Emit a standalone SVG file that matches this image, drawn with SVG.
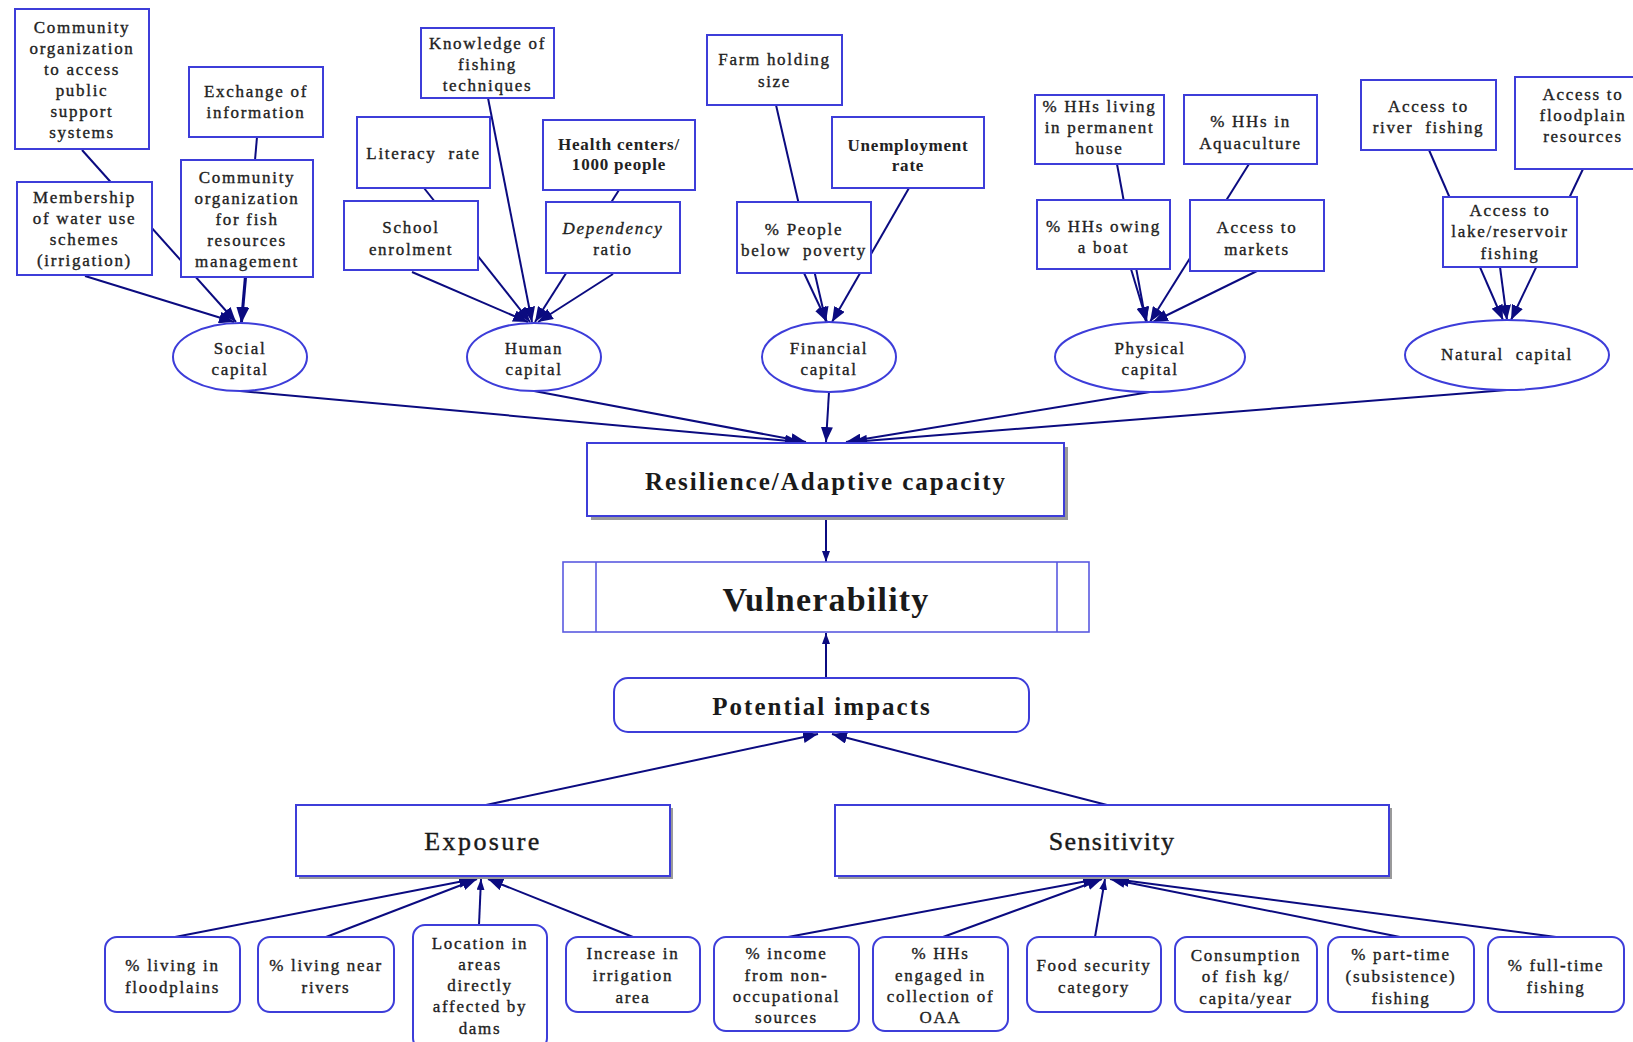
<svg xmlns="http://www.w3.org/2000/svg" width="1633" height="1042" viewBox="0 0 1633 1042">
<defs>
<marker id="ah" markerUnits="userSpaceOnUse" markerWidth="15" markerHeight="12" refX="15" refY="6" orient="auto">
<path d="M0,0 L15,6 L0,12 z" fill="#0b0b80"/>
</marker>
<marker id="as" markerUnits="userSpaceOnUse" markerWidth="11" markerHeight="8" refX="11" refY="4" orient="auto">
<path d="M0,0 L11,4 L0,8 z" fill="#0b0b80"/>
</marker>
</defs>
<style>
.b{fill:#fff;stroke:#3d3dd9;stroke-width:2}
.sh{fill:#9a9a9a}
.c line{stroke:#0b0b80;stroke-width:2;fill:none}
.t{font-family:"Liberation Serif","Times New Roman",serif;font-size:17px;letter-spacing:1.7px;fill:#222;stroke:#222;stroke-width:0.35;text-anchor:middle}
.bd{font-weight:bold;letter-spacing:0.8px;stroke-width:0}
.big{font-family:"Liberation Serif","Times New Roman",serif;fill:#1a1a1a;text-anchor:middle}
</style>
<rect width="1633" height="1042" fill="#fff"/>
<g id="connectors" class="c">
<line x1="82" y1="150" x2="236" y2="322" marker-end="url(#ah)"/>
<line x1="85" y1="276" x2="234" y2="322" marker-end="url(#ah)"/>
<line x1="257" y1="137" x2="241" y2="322" marker-end="url(#ah)"/>
<line x1="246" y1="278" x2="242" y2="322" marker-end="url(#ah)"/>
<line x1="488" y1="98" x2="532" y2="322" marker-end="url(#ah)"/>
<line x1="424" y1="188" x2="530" y2="322" marker-end="url(#ah)"/>
<line x1="412" y1="272" x2="528" y2="322" marker-end="url(#ah)"/>
<line x1="619" y1="190" x2="535" y2="322" marker-end="url(#ah)"/>
<line x1="613" y1="274" x2="538" y2="322" marker-end="url(#ah)"/>
<line x1="776" y1="105" x2="826" y2="322" marker-end="url(#ah)"/>
<line x1="804" y1="273" x2="827" y2="322" marker-end="url(#ah)"/>
<line x1="909" y1="188" x2="832" y2="322" marker-end="url(#ah)"/>
<line x1="1117" y1="164" x2="1146" y2="322" marker-end="url(#ah)"/>
<line x1="1131" y1="269" x2="1147" y2="322" marker-end="url(#ah)"/>
<line x1="1249" y1="164" x2="1150" y2="322" marker-end="url(#ah)"/>
<line x1="1257" y1="271" x2="1153" y2="322" marker-end="url(#ah)"/>
<line x1="1429" y1="150" x2="1503" y2="320" marker-end="url(#ah)"/>
<line x1="1583" y1="169" x2="1511" y2="320" marker-end="url(#ah)"/>
<line x1="1500" y1="267" x2="1507" y2="320" marker-end="url(#ah)"/>
<line x1="240" y1="391" x2="800" y2="442" marker-end="url(#ah)"/>
<line x1="534" y1="391" x2="806" y2="442" marker-end="url(#ah)"/>
<line x1="829" y1="392" x2="826" y2="442" marker-end="url(#ah)"/>
<line x1="1150" y1="392" x2="846" y2="442" marker-end="url(#ah)"/>
<line x1="1507" y1="390" x2="852" y2="442" marker-end="url(#ah)"/>
<line x1="826" y1="518" x2="826" y2="562" marker-end="url(#as)"/>
<line x1="826" y1="678" x2="826" y2="633" marker-end="url(#as)"/>
<line x1="486" y1="805" x2="818" y2="734" marker-end="url(#ah)"/>
<line x1="1107" y1="805" x2="832" y2="734" marker-end="url(#ah)"/>
<line x1="175" y1="937" x2="474" y2="879" marker-end="url(#ah)"/>
<line x1="326" y1="937" x2="477" y2="879" marker-end="url(#ah)"/>
<line x1="479" y1="925" x2="481" y2="879" marker-end="url(#as)"/>
<line x1="633" y1="937" x2="488" y2="879" marker-end="url(#ah)"/>
<line x1="788" y1="937" x2="1098" y2="879" marker-end="url(#ah)"/>
<line x1="943" y1="937" x2="1102" y2="879" marker-end="url(#ah)"/>
<line x1="1095" y1="937" x2="1105" y2="879" marker-end="url(#as)"/>
<line x1="1400" y1="937" x2="1110" y2="879" marker-end="url(#ah)"/>
<line x1="1556" y1="937" x2="1114" y2="879" marker-end="url(#ah)"/>
</g>
<g id="n-comm-access"><rect class="b" x="15" y="9" width="134" height="140"/>
<text class="t" x="82" y="33">Community</text><text class="t" x="82" y="54">organization</text><text class="t" x="82" y="75">to access</text><text class="t" x="82" y="96">public</text><text class="t" x="82" y="117">support</text><text class="t" x="82" y="138">systems</text></g>
<g id="n-exchange"><rect class="b" x="189" y="67" width="134" height="70"/>
<text class="t" x="256" y="97">Exchange of</text><text class="t" x="256" y="118">information</text></g>
<g id="n-membership"><rect class="b" x="17" y="182" width="135" height="93"/>
<text class="t" x="84.5" y="203">Membership</text><text class="t" x="84.5" y="224">of water use</text><text class="t" x="84.5" y="245">schemes</text><text class="t" x="84.5" y="266">(irrigation)</text></g>
<g id="n-comm-fish"><rect class="b" x="181" y="160" width="132" height="117"/>
<text class="t" x="247" y="183">Community</text><text class="t" x="247" y="204">organization</text><text class="t" x="247" y="225">for fish</text><text class="t" x="247" y="246">resources</text><text class="t" x="247" y="267">management</text></g>
<g id="n-social"><ellipse class="b" cx="240" cy="357" rx="67" ry="34"/>
<text class="t" x="240" y="354">Social</text><text class="t" x="240" y="375">capital</text></g>
<g id="n-knowledge"><rect class="b" x="421" y="28" width="133" height="70"/>
<text class="t" x="487.5" y="49">Knowledge of</text><text class="t" x="487.5" y="70">fishing</text><text class="t" x="487.5" y="91">techniques</text></g>
<g id="n-literacy"><rect class="b" x="357" y="117" width="133" height="71"/>
<text class="t" x="423.5" y="159" xml:space="preserve">Literacy  rate</text></g>
<g id="n-health"><rect class="b" x="543" y="120" width="152" height="70"/>
<text class="t bd" x="619" y="150">Health centers/</text><text class="t bd" x="619" y="170">1000 people</text></g>
<g id="n-school"><rect class="b" x="344" y="201" width="134" height="69"/>
<text class="t" x="411" y="233">School</text><text class="t" x="411" y="255">enrolment</text></g>
<g id="n-dependency"><rect class="b" x="546" y="202" width="134" height="71"/>
<text class="t" x="613" y="234" font-style="italic">Dependency</text><text class="t" x="613" y="255">ratio</text></g>
<g id="n-human"><ellipse class="b" cx="534" cy="357" rx="67" ry="34"/>
<text class="t" x="534" y="354">Human</text><text class="t" x="534" y="375">capital</text></g>
<g id="n-farm"><rect class="b" x="707" y="35" width="135" height="70"/>
<text class="t" x="774.5" y="65">Farm holding</text><text class="t" x="774.5" y="87">size</text></g>
<g id="n-unemployment"><rect class="b" x="832" y="117" width="152" height="71"/>
<text class="t bd" x="908" y="151">Unemployment</text><text class="t bd" x="908" y="171">rate</text></g>
<g id="n-people"><rect class="b" x="737" y="202" width="134" height="71"/>
<text class="t" x="804" y="235">% People</text><text class="t" x="804" y="256" xml:space="preserve">below  poverty</text></g>
<g id="n-financial"><ellipse class="b" cx="829" cy="357" rx="67" ry="35"/>
<text class="t" x="829" y="354">Financial</text><text class="t" x="829" y="375">capital</text></g>
<g id="n-living"><rect class="b" x="1035" y="95" width="129" height="69"/>
<text class="t" x="1099.5" y="112">% HHs living</text><text class="t" x="1099.5" y="133">in permanent</text><text class="t" x="1099.5" y="154">house</text></g>
<g id="n-aquaculture"><rect class="b" x="1184" y="95" width="133" height="69"/>
<text class="t" x="1250.5" y="127">% HHs in</text><text class="t" x="1250.5" y="149">Aquaculture</text></g>
<g id="n-boat"><rect class="b" x="1037" y="200" width="133" height="69"/>
<text class="t" x="1103.5" y="232">% HHs owing</text><text class="t" x="1103.5" y="253">a boat</text></g>
<g id="n-markets"><rect class="b" x="1190" y="200" width="134" height="71"/>
<text class="t" x="1257" y="233">Access to</text><text class="t" x="1257" y="255">markets</text></g>
<g id="n-physical"><ellipse class="b" cx="1150" cy="357" rx="95" ry="35"/>
<text class="t" x="1150" y="354">Physical</text><text class="t" x="1150" y="375">capital</text></g>
<g id="n-river"><rect class="b" x="1361" y="80" width="135" height="70"/>
<text class="t" x="1428.5" y="112">Access to</text><text class="t" x="1428.5" y="133" xml:space="preserve">river  fishing</text></g>
<g id="n-floodplain"><rect class="b" x="1515" y="77" width="135" height="92"/>
<text class="t" x="1583" y="100">Access to</text><text class="t" x="1583" y="121">floodplain</text><text class="t" x="1583" y="142">resources</text></g>
<g id="n-lake"><rect class="b" x="1443" y="197" width="134" height="70"/>
<text class="t" x="1510" y="216">Access to</text><text class="t" x="1510" y="237">lake/reservoir</text><text class="t" x="1510" y="259">fishing</text></g>
<g id="n-natural"><ellipse class="b" cx="1507" cy="355" rx="102" ry="35"/>
<text class="t" x="1507" y="360" xml:space="preserve">Natural  capital</text></g>
<g id="n-resilience"><rect class="sh" x="591" y="447" width="477" height="73"/><rect class="b" x="587" y="443" width="477" height="73"/>
<text class="big" x="826" y="490" font-size="25" font-weight="bold" letter-spacing="2">Resilience/Adaptive capacity</text></g>
<g id="n-vulnerability"><rect class="b" x="563" y="562" width="526" height="70" style="stroke:#5a5ae0;stroke-width:1.6"/>
<line x1="596" y1="562" x2="596" y2="632" stroke="#5a5ae0" stroke-width="1.6"/><line x1="1057" y1="562" x2="1057" y2="632" stroke="#5a5ae0" stroke-width="1.6"/>
<text class="big" x="826" y="611" font-size="34" font-weight="bold" letter-spacing="1.2">Vulnerability</text></g>
<g id="n-potential"><rect class="b" x="614" y="678" width="415" height="54" rx="14"/>
<text class="big" x="822" y="715" font-size="25" font-weight="bold" letter-spacing="2">Potential impacts</text></g>
<g id="n-exposure"><rect class="sh" x="299" y="808" width="374" height="71"/><rect class="b" x="296" y="805" width="374" height="71"/>
<text class="big" x="483" y="850" font-size="26" letter-spacing="2.4" stroke="#1a1a1a" stroke-width="0.4">Exposure</text></g>
<g id="n-sensitivity"><rect class="sh" x="838" y="808" width="554" height="71"/><rect class="b" x="835" y="805" width="554" height="71"/>
<text class="big" x="1112" y="850" font-size="26" letter-spacing="1.4" stroke="#1a1a1a" stroke-width="0.4">Sensitivity</text></g>
<g id="n-floodplains"><rect class="b" x="105" y="937" width="135" height="75" rx="12"/>
<text class="t" x="172.5" y="971">% living in</text><text class="t" x="172.5" y="993">floodplains</text></g>
<g id="n-rivers"><rect class="b" x="258" y="937" width="136" height="75" rx="12"/>
<text class="t" x="326" y="971">% living near</text><text class="t" x="326" y="993">rivers</text></g>
<g id="n-location"><rect class="b" x="413" y="925" width="134" height="125" rx="12"/>
<text class="t" x="480" y="949">Location in</text><text class="t" x="480" y="970">areas</text><text class="t" x="480" y="991">directly</text><text class="t" x="480" y="1012">affected by</text><text class="t" x="480" y="1034">dams</text></g>
<g id="n-irrigation"><rect class="b" x="566" y="937" width="134" height="75" rx="12"/>
<text class="t" x="633" y="959">Increase in</text><text class="t" x="633" y="981">irrigation</text><text class="t" x="633" y="1003">area</text></g>
<g id="n-income"><rect class="b" x="714" y="937" width="145" height="94" rx="12"/>
<text class="t" x="786.5" y="959">% income</text><text class="t" x="786.5" y="981">from non-</text><text class="t" x="786.5" y="1002">occupational</text><text class="t" x="786.5" y="1023">sources</text></g>
<g id="n-oaa"><rect class="b" x="873" y="937" width="135" height="94" rx="12"/>
<text class="t" x="940.5" y="959">% HHs</text><text class="t" x="940.5" y="981">engaged in</text><text class="t" x="940.5" y="1002">collection of</text><text class="t" x="940.5" y="1023">OAA</text></g>
<g id="n-food"><rect class="b" x="1027" y="937" width="134" height="75" rx="12"/>
<text class="t" x="1094" y="971">Food security</text><text class="t" x="1094" y="993">category</text></g>
<g id="n-consumption"><rect class="b" x="1175" y="937" width="142" height="75" rx="12"/>
<text class="t" x="1246" y="961">Consumption</text><text class="t" x="1246" y="982">of fish kg/</text><text class="t" x="1246" y="1004">capita/year</text></g>
<g id="n-parttime"><rect class="b" x="1328" y="937" width="146" height="75" rx="12"/>
<text class="t" x="1401" y="960">% part-time</text><text class="t" x="1401" y="982">(subsistence)</text><text class="t" x="1401" y="1004">fishing</text></g>
<g id="n-fulltime"><rect class="b" x="1488" y="937" width="136" height="75" rx="12"/>
<text class="t" x="1556" y="971">% full-time</text><text class="t" x="1556" y="993">fishing</text></g>
</svg>
